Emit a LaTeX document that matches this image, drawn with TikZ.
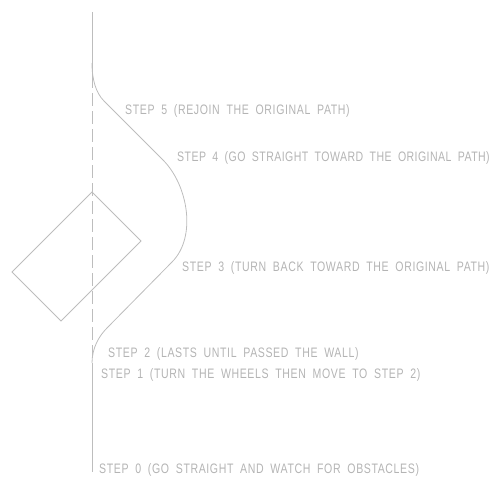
\documentclass[tikz,border=0pt]{standalone}
\usepackage{fontspec}
\usepackage{xcolor}
\usepackage{tikz}
\newfontfamily\cadfont[FakeStretch=0.77,LetterSpace=4.5,WordSpace=1.9]{Liberation Sans}
\newfontfamily\cadtight[FakeStretch=0.77,LetterSpace=3.2,WordSpace=1.9]{Liberation Sans}
\definecolor{cadline}{HTML}{BDBDBD}
\definecolor{cadtext}{HTML}{B4B4B4}
\tikzset{
  pathline/.style={draw=cadline, line width=0.8pt},
  refline/.style={draw=cadline, line width=0.8pt},
  refdash/.style={draw=cadline, line width=0.8pt, dash pattern=on 13pt off 5pt},
  wall/.style={draw=cadline, line width=0.8pt},
  steplabel/.style={anchor=base west, inner sep=0pt, text=cadtext,
    font=\cadfont\fontsize{13.7pt}{14pt}\selectfont},
  steptight/.style={steplabel, font=\cadtight\fontsize{13.7pt}{14pt}\selectfont},
}

\begin{document}
\begin{tikzpicture}[x=1pt, y=-1pt]
  \useasboundingbox (0,0) rectangle (494,476);

  % original path
  \coordinate (top) at (92,12);
  \coordinate (leave) at (92,63);
  \coordinate (dashstart) at (92,75);
  \coordinate (rejoin) at (92,363);
  \coordinate (bottom) at (92,472);
  \draw[refline] (top) -- (dashstart);
  \draw[refdash] (dashstart) -- (rejoin);
  \draw[refline] (rejoin) -- (bottom);

  % obstacle
  \coordinate (w1) at (92,192);
  \coordinate (w2) at (141,241);
  \coordinate (w3) at (61,321);
  \coordinate (w4) at (12,272);
  \draw[wall] (w1) -- (w2) -- (w3) -- (w4) -- cycle;

  % avoidance path
  \coordinate (a1) at (107,328);
  \coordinate (a2) at (172,262);
  \coordinate (a3) at (163,160);
  \coordinate (a4) at (104,101);
  \draw[pathline] (rejoin) .. controls (92,348) and (99,336) .. (a1)
    -- (a2) .. controls (197,237) and (188,185) .. (a3)
    -- (a4) .. controls (96,93) and (92,80) .. (leave);

  \node[steplabel] (s5) at (125,114) {STEP 5 (REJOIN THE ORIGINAL PATH)};
  \node[steptight] (s4) at (177,161) {STEP 4 (GO STRAIGHT TOWARD THE ORIGINAL PATH)};
  \node[steplabel] (s3) at (182,271) {STEP 3 (TURN BACK TOWARD THE ORIGINAL PATH)};
  \node[steplabel] (s2) at (108,357) {STEP 2 (LASTS UNTIL PASSED THE WALL)};
  \node[steplabel] (s1) at (101,378) {STEP 1 (TURN THE WHEELS THEN MOVE TO STEP 2)};
  \node[steplabel] (s0) at (99,473) {STEP 0 (GO STRAIGHT AND WATCH FOR OBSTACLES)};

\end{tikzpicture}
\end{document}
